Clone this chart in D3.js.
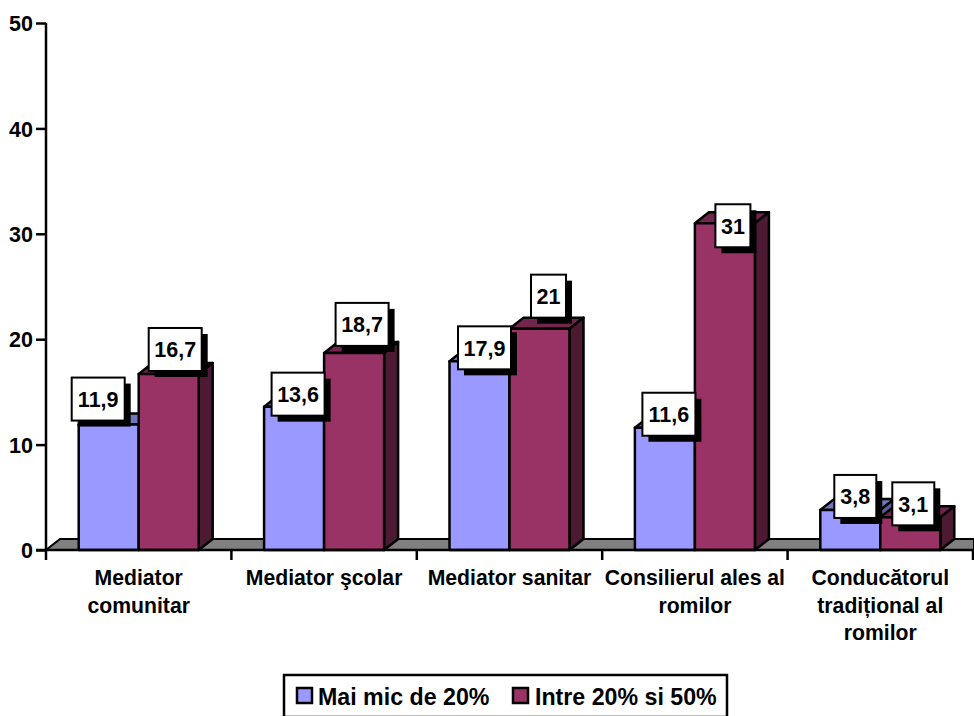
<!DOCTYPE html>
<html><head><meta charset="utf-8">
<script src="https://cdn.jsdelivr.net/npm/d3@7/dist/d3.min.js"></script>
<style>html,body{margin:0;padding:0;background:#fff}svg{display:block}text{font-family:"Liberation Sans",Arial,sans-serif;font-weight:bold;fill:#000}</style>
</head><body><svg id="c" width="974" height="716"></svg>
<script>
const categories=["Mediator comunitar","Mediator şcolar","Mediator sanitar","Consilierul ales al romilor","Conducătorul tradițional al romilor"];
const categoryLines=[["Mediator","comunitar"],["Mediator şcolar"],["Mediator sanitar"],["Consilierul ales al","romilor"],["Conducătorul","tradițional al","romilor"]];
const seriesNames=["Mai mic de 20%","Intre 20% si 50%"];
const lowValues=[11.9,13.6,17.9,11.6,3.8];
const midValues=[16.7,18.7,21,31,3.1];
const yTicks=[0,10,20,30,40,50];
const faceColors=["#9999FF","#993366"];
const topColors=["#7373BF","#73264D"];
const sideColors=["#5C5C99","#4D1A33"];
// label offsets from the bar-top centre: [dx, gap under/over the bar top]
const labelNudge=[[[-10.5,-4],[6.5,-3]],[[4,9],[8,-7]],[[5,8],[9,-11]],[[4,8],[8,24]],[[5,8],[3,8]]];

const svg=d3.select("#c");
const x0=46,x1=973,yBase=550,yTop=23,depthX=14,depthY=11;
const x=d3.scaleBand().domain(categories).range([x0,x1]);
const sub=d3.scaleBand().domain([0,1]).range([x.bandwidth()/2-60,x.bandwidth()/2+60]);
const y=d3.scaleLinear().domain([0,50]).range([yBase,yTop]);
const sw=2.5;

// floor
svg.append("path").attr("d",d3.line()([[x0,yBase],[x0+depthX,yBase-depthY],[974,yBase-depthY],[974,yBase]])+"Z")
  .attr("fill","#808080").attr("stroke","#000").attr("stroke-width",2);

const series=[lowValues,midValues];
categories.forEach((c,i)=>{
  [0,1].forEach(s=>{
    const v=series[s][i];
    const l=x(c)+sub(s),r=l+sub.bandwidth(),t=y(v),b=y(0);
    const g=svg.append("g").attr("stroke","#000").attr("stroke-width",sw).attr("stroke-linejoin","round");
    g.append("path").attr("d",d3.line()([[l,t],[l+depthX,t-depthY],[r+depthX,t-depthY],[r,t]])+"Z").attr("fill",topColors[s]);
    g.append("path").attr("d",d3.line()([[r,t],[r+depthX,t-depthY],[r+depthX,b-depthY],[r,b]])+"Z").attr("fill",sideColors[s]);
    g.append("rect").attr("x",l).attr("y",t).attr("width",r-l).attr("height",b-t).attr("fill",faceColors[s]);
  });
});

// axes
const yAxis=d3.axisLeft(y).tickValues(yTicks).tickSize(10).tickPadding(2);
const ga=svg.append("g").attr("transform",`translate(${x0},0)`).call(yAxis);
ga.selectAll("path,line").attr("stroke","#000").attr("stroke-width",sw);
ga.select(".domain").attr("d",`M0,${yTop}V${yBase}`);
ga.selectAll("text").attr("style","font-family:'Liberation Sans';font-weight:bold;font-size:21.5px").attr("dy","0.36em");
ga.selectAll("text").attr("x",-13);
const xAxis=d3.axisBottom(x).tickValues([]).tickSize(0);
const gx=svg.append("g").attr("transform",`translate(0,${yBase})`).call(xAxis);
gx.select(".domain").attr("d",`M${x0-10},0H974`).attr("stroke","#000").attr("stroke-width",sw);
gx.selectAll(".sep").data(d3.range(categories.length+1)).enter().append("line").attr("class","sep")
  .attr("x1",i=>x0+i*x.step()).attr("x2",i=>x0+i*x.step()).attr("y1",0).attr("y2",10)
  .attr("stroke","#000").attr("stroke-width",sw);

// category labels
categories.forEach((c,i)=>{
  const cx=x(c)+x.bandwidth()/2;
  categoryLines[i].forEach((ln,k)=>{
    svg.append("text").attr("x",cx).attr("y",585+k*27.7).attr("text-anchor","middle").attr("font-size",21.2).text(ln);
  });
});

// data labels
categories.forEach((c,i)=>{
  [0,1].forEach(s=>{
    const v=series[s][i];
    const txt=String(v).replace(".",",");
    const cxBar=x(c)+sub(s)+sub.bandwidth()/2;
    const cx=cxBar+labelNudge[i][s][0];
    const bottom=y(v)+labelNudge[i][s][1];
    const w=txt.length===4?53:(txt.length===3?42:35),h=43;
    const g=svg.append("g");
    g.append("rect").attr("x",cx-w/2+6).attr("y",bottom-h+6).attr("width",w).attr("height",h).attr("fill","#000");
    g.append("rect").attr("x",cx-w/2).attr("y",bottom-h).attr("width",w).attr("height",h).attr("fill","#fff").attr("stroke","#000").attr("stroke-width",2);
    g.append("text").attr("x",cx).attr("y",bottom-h/2+8).attr("text-anchor","middle").attr("font-size",21.5).text(txt);
  });
});

// legend
svg.append("rect").attr("x",284).attr("y",675).attr("width",443).attr("height",42).attr("fill","#fff").attr("stroke","#000").attr("stroke-width",2.5);
const legendX=[297,513],legendTextX=[318,535];
seriesNames.forEach((n,i)=>{
  svg.append("rect").attr("x",legendX[i]).attr("y",688).attr("width",15).attr("height",15).attr("fill",faceColors[i]).attr("stroke","#000").attr("stroke-width",2.5);
  svg.append("text").attr("x",legendTextX[i]).attr("y",705).attr("font-size",23.2).text(n);
});
</script></body></html>
